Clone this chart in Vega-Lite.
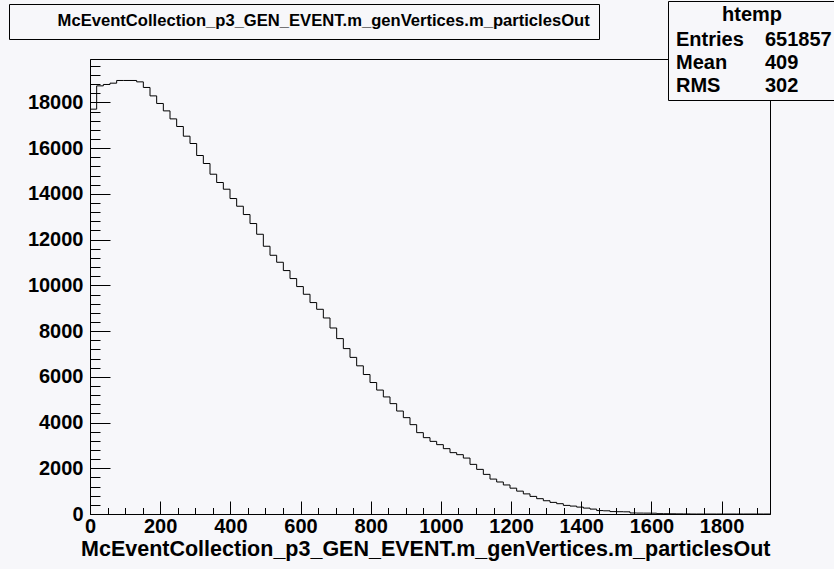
{
  "$schema": "https://vega.github.io/schema/vega-lite/v6.json",
  "width": 680,
  "height": 455,
  "autosize": {"type": "none"},
  "padding": {"left": 90, "top": 59, "right": 64, "bottom": 55},
  "background": "#f7f7fa",
  "config": {
    "view": {"stroke": "black", "strokeWidth": 1},
    "axis": {
      "labelFont": "Liberation Sans",
      "labelFontWeight": "bold",
      "labelColor": "black",
      "titleFont": "Liberation Sans",
      "titleColor": "black",
      "domainColor": "black",
      "tickColor": "black",
      "grid": false,
      "labelFlush": false,
      "labelOverlap": false
    }
  },
  "data": {
    "values": [
      {"x": 0, "count": 17706}, {"x": 19, "count": 18725}, {"x": 38, "count": 18786}, {"x": 57, "count": 18843},
      {"x": 76, "count": 18961}, {"x": 95, "count": 18961}, {"x": 114, "count": 18961}, {"x": 133, "count": 18900},
      {"x": 152, "count": 18655}, {"x": 171, "count": 18287}, {"x": 190, "count": 17955}, {"x": 209, "count": 17631},
      {"x": 228, "count": 17281}, {"x": 247, "count": 16948}, {"x": 266, "count": 16524}, {"x": 285, "count": 16204},
      {"x": 304, "count": 15679}, {"x": 323, "count": 15329}, {"x": 342, "count": 14861}, {"x": 361, "count": 14498},
      {"x": 380, "count": 14205}, {"x": 399, "count": 13797}, {"x": 418, "count": 13461}, {"x": 437, "count": 13097},
      {"x": 456, "count": 12704}, {"x": 475, "count": 12235}, {"x": 494, "count": 11710}, {"x": 513, "count": 11316},
      {"x": 532, "count": 11010}, {"x": 551, "count": 10647}, {"x": 570, "count": 10297}, {"x": 589, "count": 9947},
      {"x": 608, "count": 9610}, {"x": 627, "count": 9247}, {"x": 646, "count": 8953}, {"x": 665, "count": 8573},
      {"x": 684, "count": 8135}, {"x": 703, "count": 7671}, {"x": 722, "count": 7234}, {"x": 741, "count": 6850},
      {"x": 760, "count": 6480}, {"x": 779, "count": 6100}, {"x": 798, "count": 5750}, {"x": 817, "count": 5420},
      {"x": 836, "count": 5120}, {"x": 855, "count": 4827}, {"x": 874, "count": 4503}, {"x": 893, "count": 4214},
      {"x": 912, "count": 3908}, {"x": 931, "count": 3558}, {"x": 950, "count": 3339}, {"x": 969, "count": 3177},
      {"x": 988, "count": 3033}, {"x": 1007, "count": 2858}, {"x": 1026, "count": 2683}, {"x": 1045, "count": 2595},
      {"x": 1064, "count": 2446}, {"x": 1083, "count": 2171}, {"x": 1102, "count": 1952}, {"x": 1121, "count": 1733},
      {"x": 1140, "count": 1527}, {"x": 1159, "count": 1400}, {"x": 1178, "count": 1270}, {"x": 1197, "count": 1130},
      {"x": 1216, "count": 1000}, {"x": 1235, "count": 880}, {"x": 1254, "count": 770}, {"x": 1273, "count": 670},
      {"x": 1292, "count": 580}, {"x": 1311, "count": 508}, {"x": 1330, "count": 451}, {"x": 1349, "count": 376},
      {"x": 1368, "count": 346}, {"x": 1387, "count": 302}, {"x": 1406, "count": 258}, {"x": 1425, "count": 214},
      {"x": 1444, "count": 150}, {"x": 1463, "count": 140}, {"x": 1482, "count": 105}, {"x": 1501, "count": 100},
      {"x": 1520, "count": 95}, {"x": 1539, "count": 45}, {"x": 1558, "count": 40}, {"x": 1577, "count": 38},
      {"x": 1596, "count": 35}, {"x": 1615, "count": 15}, {"x": 1634, "count": 12}, {"x": 1653, "count": 9},
      {"x": 1672, "count": 6}, {"x": 1691, "count": 4}, {"x": 1710, "count": 0}, {"x": 1729, "count": 0},
      {"x": 1748, "count": 0}, {"x": 1767, "count": 0}, {"x": 1786, "count": 0}, {"x": 1805, "count": 0},
      {"x": 1824, "count": 0}, {"x": 1843, "count": 0}, {"x": 1862, "count": 0}, {"x": 1881, "count": 0},
      {"x": 1900, "count": 0}, {"x": 1919, "count": 0}, {"x": 1938, "count": 0}
    ]
  },
  "resolve": {"axis": {"x": "independent", "y": "independent"}},
  "layer": [
    {
      "mark": {"type": "line", "interpolate": "step-after", "color": "black", "strokeWidth": 1},
      "encoding": {
        "x": {
          "field": "x", "type": "quantitative",
          "scale": {"domain": [0, 1938], "nice": false, "zero": false},
          "axis": {
            "orient": "bottom",
            "values": [0, 200, 400, 600, 800, 1000, 1200, 1400, 1600, 1800],
            "format": "d",
            "tickSize": -13,
            "labelPadding": 15,
            "labelFontSize": 20,
            "labelAngle": 0,
            "title": "McEventCollection_p3_GEN_EVENT.m_genVertices.m_particlesOut",
            "titleAnchor": "end",
            "titleFontSize": 21.5,
            "titleFontWeight": "bold",
            "titlePadding": 2
          }
        },
        "y": {
          "field": "count", "type": "quantitative",
          "scale": {"domain": [0, 19900], "nice": false},
          "axis": {
            "orient": "left",
            "values": [0, 2000, 4000, 6000, 8000, 10000, 12000, 14000, 16000, 18000],
            "format": "d",
            "tickSize": -20,
            "labelPadding": 27,
            "labelFontSize": 20,
            "title": null
          }
        }
      }
    },
    {
      "mark": {"type": "line", "interpolate": "step-after", "opacity": 0},
      "encoding": {
        "x": {
          "field": "x", "type": "quantitative",
          "axis": {
            "orient": "bottom",
            "values": [50, 100, 150, 200, 250, 300, 350, 400, 450, 500, 550, 600, 650, 700, 750, 800, 850, 900, 950, 1000, 1050, 1100, 1150, 1200, 1250, 1300, 1350, 1400, 1450, 1500, 1550, 1600, 1650, 1700, 1750, 1800, 1850, 1900],
            "tickSize": -6.5,
            "labels": false,
            "domain": false,
            "title": null
          }
        },
        "y": {
          "field": "count", "type": "quantitative",
          "axis": {
            "orient": "left",
            "values": [400, 800, 1200, 1600, 2000, 2400, 2800, 3200, 3600, 4000, 4400, 4800, 5200, 5600, 6000, 6400, 6800, 7200, 7600, 8000, 8400, 8800, 9200, 9600, 10000, 10400, 10800, 11200, 11600, 12000, 12400, 12800, 13200, 13600, 14000, 14400, 14800, 15200, 15600, 16000, 16400, 16800, 17200, 17600, 18000, 18400, 18800, 19200, 19600],
            "tickSize": -10,
            "labels": false,
            "domain": false,
            "title": null
          }
        }
      }
    },
    {
      "data": {"values": [
        {"item": "Entries"}, {"item": "651857"},
        {"item": "Mean"}, {"item": "409"},
        {"item": "RMS"}, {"item": "302"}
      ]},
      "mark": {"type": "point", "opacity": 0},
      "encoding": {
        "color": {
          "field": "item", "type": "nominal",
          "scale": {"domain": ["Entries", "Mean", "RMS", "651857", "409", "302"], "range": ["black"]},
          "legend": {
            "orient": "none",
            "legendX": 578,
            "legendY": -58,
            "columns": 2,
            "columnPadding": 17,
            "rowPadding": 3,
            "padding": 4,
            "fillColor": "#f7f7fa",
            "strokeColor": "black",
            "title": "htemp",
            "titleAnchor": "middle",
            "titleFont": "Liberation Sans",
            "titleFontSize": 20,
            "titleFontWeight": "bold",
            "titleColor": "black",
            "titlePadding": 5,
            "labelFont": "Liberation Sans",
            "labelFontSize": 20,
            "labelFontWeight": "bold",
            "labelColor": "black",
            "labelOffset": -16,
            "labelExpr": "datum.label == '409' || datum.label == '302' ? '\u2007\u2007\u2007' + datum.label : datum.label",
            "symbolSize": 0,
            "symbolOpacity": 0,
            "symbolStrokeWidth": 0
          }
        }
      }
    },
    {
      "data": {"values": [{"t": "McEventCollection_p3_GEN_EVENT.m_genVertices.m_particlesOut"}]},
      "mark": {"type": "point", "opacity": 0},
      "encoding": {
        "shape": {
          "field": "t", "type": "nominal",
          "legend": {
            "orient": "none",
            "legendX": -81,
            "legendY": -55,
            "padding": 9,
            "fillColor": "#f7f7fa",
            "strokeColor": "black",
            "title": null,
            "labelFont": "Liberation Sans",
            "labelFontSize": 16.6,
            "labelFontWeight": "bold",
            "labelColor": "black",
            "labelLimit": 1000,
            "labelOffset": 23,
            "symbolSize": 0,
            "symbolOpacity": 0,
            "symbolStrokeWidth": 0
          }
        }
      }
    }
  ]
}
